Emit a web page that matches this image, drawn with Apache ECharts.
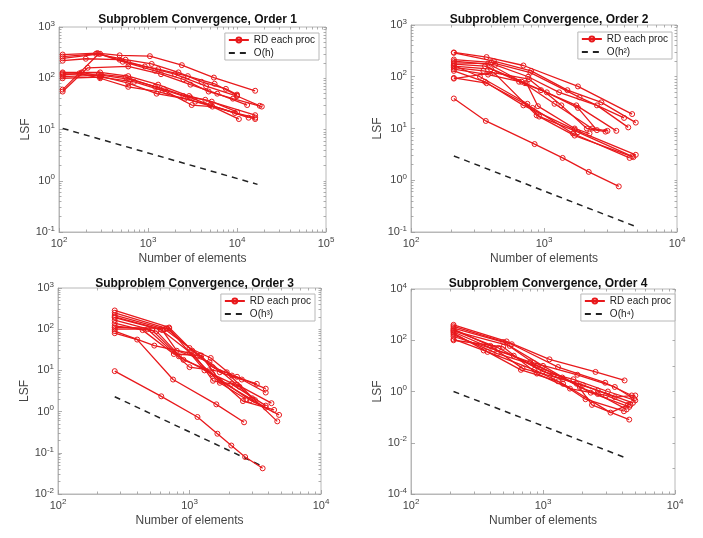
<!DOCTYPE html>
<html>
<head>
<meta charset="utf-8">
<script src="https://cdn.jsdelivr.net/npm/echarts@6/dist/echarts.min.js"></script>
<style>
  html, body { margin: 0; padding: 0; background: #fff; }
  #chart { width: 703px; height: 538px; }
</style>
</head>
<body>
<div id="chart"></div>
<script>
// panel titles and reference-line names
var titles = ['Subproblem Convergence, Order 1', 'Subproblem Convergence, Order 2',
    'Subproblem Convergence, Order 3', 'Subproblem Convergence, Order 4'];
var refNames = ['O(h)', 'O(h\u00b2)', 'O(h\u00b3)', 'O(h\u2074)'];

// axis ranges (log10 exponents)
var xRanges = [[2, 5], [2, 4], [2, 4], [2, 4]];
var yRanges = [[-1, 3], [-1, 3], [-2, 3], [-4, 4]];

// each run: [number of elements, LSF]
var order1Runs = [
    [[110, 290], [270, 310], [480, 280], [1050, 270], [2400, 180], [5500, 103], [16000, 57]],
    [[110, 265], [260, 300], [560, 230], [1100, 190], [2200, 130], [4000, 85], [7500, 62], [10000, 48]],
    [[110, 245], [290, 300], [600, 200], [1300, 150], [2800, 110], [5600, 78], [10000, 46]],
    [[110, 220], [200, 240], [480, 230], [920, 170], [2000, 120], [4500, 70], [10000, 45], [18000, 29]],
    [[110, 60], [280, 300], [520, 210], [1200, 140], [2500, 95], [4800, 55], [9000, 40], [19000, 28]],
    [[110, 55], [210, 160], [600, 170], [1400, 120], [3000, 75], [6000, 50], [13000, 30]],
    [[110, 130], [290, 130], [600, 110], [1300, 75], [2900, 45], [5200, 35], [10000, 22]],
    [[110, 120], [280, 120], [560, 105], [1200, 68], [2500, 45], [4400, 38], [16000, 19]],
    [[110, 108], [300, 115], [620, 95], [1500, 62], [3000, 42], [5000, 30], [13500, 17]],
    [[110, 100], [290, 105], [700, 85], [1600, 55], [3100, 30], [5300, 28], [10500, 16]],
    [[110, 125], [180, 130], [290, 110], [600, 80], [1250, 50], [2600, 40], [5000, 30], [16000, 16]],
    [[110, 115], [170, 125], [290, 100], [600, 68], [1300, 55], [3400, 35], [9500, 21], [16000, 17]]
];
var order2Runs = [
    [[210, 295], [370, 240], [700, 165], [1800, 65], [4600, 19]],
    [[210, 290], [420, 200], [800, 130], [1500, 55], [2700, 32], [4900, 13]],
    [[210, 215], [400, 190], [790, 120], [1850, 40], [4000, 16]],
    [[210, 200], [430, 170], [760, 100], [1300, 50], [2500, 28], [4300, 10.5]],
    [[210, 185], [380, 180], [680, 80], [1200, 30], [2300, 10], [3000, 9]],
    [[210, 175], [360, 160], [720, 75], [950, 55], [1750, 28], [3500, 9]],
    [[210, 160], [400, 140], [650, 80], [1050, 50], [1800, 25], [2500, 9.3]],
    [[210, 150], [350, 130], [770, 90], [1350, 28], [2100, 10], [2900, 8.7]],
    [[210, 140], [380, 110], [740, 75], [900, 27], [1700, 10], [2200, 8]],
    [[210, 130], [360, 80], [700, 28], [1700, 9.5], [4900, 3.1]],
    [[210, 95], [370, 75], [820, 25], [1650, 8], [4400, 2.7]],
    [[210, 92], [420, 120], [880, 18], [1800, 8.5], [4600, 2.9]],
    [[210, 165], [330, 100], [750, 30], [920, 17], [1700, 7.3], [4700, 2.8]],
    [[210, 38], [365, 14], [850, 5], [1380, 2.7], [2170, 1.45], [3650, 0.76]]
];
var order3Runs = [
    [[270, 285], [700, 110], [1050, 30], [1500, 12], [2300, 7], [3800, 3.6]],
    [[270, 250], [670, 105], [1000, 35], [1450, 20], [2100, 7.5], [3250, 4.7]],
    [[270, 220], [650, 100], [1200, 23], [1700, 9], [2500, 6], [3800, 2.9]],
    [[270, 200], [600, 100], [1000, 28], [1700, 5], [2700, 2.0]],
    [[270, 190], [620, 95], [800, 30], [1420, 16], [2300, 4.5], [4200, 1.6]],
    [[270, 165], [520, 95], [830, 22], [1500, 8], [2900, 1.9], [4800, 0.83]],
    [[270, 140], [440, 95], [760, 25], [1230, 23], [1700, 5.6], [3800, 1.25]],
    [[270, 120], [560, 90], [900, 18], [1400, 10], [2550, 1.8], [4400, 1.1]],
    [[270, 110], [700, 105], [1300, 10], [2400, 4], [3000, 2.1]],
    [[270, 100], [480, 100], [1000, 12], [1920, 9], [3150, 1.9], [4650, 0.58]],
    [[270, 90], [540, 40], [1080, 25], [1510, 5.6], [2080, 4.7], [3800, 1.4]],
    [[270, 80], [400, 56], [750, 6], [1600, 1.5], [2600, 0.55]],
    [[270, 9.6], [610, 2.35], [1150, 0.74], [1630, 0.29], [2080, 0.15], [2650, 0.079], [3600, 0.042]]
];
var order4Runs = [
    [[210, 400], [530, 90], [1120, 18], [2500, 5.8], [4150, 2.7]],
    [[210, 350], [580, 70], [1300, 9], [2960, 2.2], [4700, 0.7]],
    [[210, 300], [500, 85], [850, 13], [1820, 4.5], [3500, 1.5], [4900, 0.52]],
    [[210, 270], [400, 60], [700, 8], [1420, 3], [2600, 1.1], [4800, 0.36]],
    [[210, 245], [460, 50], [1000, 6], [1700, 3], [3100, 1.0], [5000, 0.45]],
    [[210, 230], [560, 60], [1000, 10], [1900, 1.5], [2600, 0.8], [4300, 0.2]],
    [[210, 210], [420, 45], [800, 14], [1400, 3.5], [2300, 0.9], [4500, 0.25]],
    [[210, 190], [380, 35], [680, 7], [1300, 2.5], [2100, 0.5], [4100, 0.17]],
    [[210, 165], [450, 30], [900, 10], [1800, 2], [2350, 0.3], [4500, 0.08]],
    [[210, 140], [600, 25], [1200, 4], [2000, 1.8], [3500, 0.6], [5000, 0.7]],
    [[210, 110], [355, 40], [860, 7], [1420, 2], [3250, 0.15], [4400, 0.3]],
    [[210, 100], [500, 55], [900, 5], [1600, 1.3], [3000, 0.7], [4600, 0.3]]
];
var allRuns = [order1Runs, order2Runs, order3Runs, order4Runs];

// dashed reference lines, end points
var refLines = [
    [[110, 10.5], [17000, 0.85]],
    [[210, 2.95], [4800, 0.13]],
    [[270, 2.3], [3650, 0.046]],
    [[210, 1.0], [4300, 0.0025]]
];

var red = '#e8191c';
var boxColor = '#b8b8b8';
var tickColor = '#999';
var grids = [
    {left: 59, top: 27, width: 267, height: 205},
    {left: 411, top: 25, width: 266, height: 207},
    {left: 58, top: 288, width: 263, height: 206},
    {left: 411, top: 289, width: 264, height: 205}
];
// legend boxes: distance of right edge from chart edge, top
var legendPos = [
    {right: 384, top: 33}, {right: 31, top: 32}, {right: 388, top: 294}, {right: 28, top: 294}
];

function expLabel(v) {
    var e = Math.round(Math.log10(v));
    return '10{e|' + e + '}';
}

// tick positions 1..9 x 10^k inside a range of exponents
function logTicks(range, minorOnly) {
    var out = [];
    for (var e = range[0]; e <= range[1]; e++) {
        for (var k = 1; k <= 9; k++) {
            if (e === range[1] && k > 1) break;
            if (minorOnly && k === 1) continue;
            out.push(k * Math.pow(10, e));
        }
    }
    return out;
}

// extra axis used only to draw ticks (minor or mirrored)
function tickAxis(i, range, pos, values, len) {
    return {
        type: 'log', logBase: 10, gridIndex: i, position: pos,
        min: Math.pow(10, range[0]), max: Math.pow(10, range[1]),
        axisLine: {show: false},
        axisLabel: {show: false},
        splitLine: {show: false},
        axisTick: {show: true, inside: true, length: len, customValues: values,
            lineStyle: {color: tickColor, width: 0.8}}
    };
}

var xAxes = [], yAxes = [], series = [], titleList = [], legends = [];
var labelFont = 'Liberation Sans';
grids.forEach(function (g, i) {
    g.show = true;
    g.borderColor = boxColor;
    g.borderWidth = 1;
    var rich = {e: {fontSize: 8, padding: [0, 0, 7, 0], color: '#444', fontFamily: labelFont}};
    var xIdx = xAxes.length, yIdx = yAxes.length;
    xAxes.push({
        type: 'log', logBase: 10, gridIndex: i, position: 'bottom',
        min: Math.pow(10, xRanges[i][0]), max: Math.pow(10, xRanges[i][1]),
        name: 'Number of elements', nameLocation: 'middle', nameGap: 21,
        nameTextStyle: {fontSize: 12, color: '#444', fontFamily: labelFont},
        axisLine: {lineStyle: {color: boxColor}},
        axisTick: {inside: true, length: 4, lineStyle: {color: tickColor, width: 0.8}},
        splitLine: {show: false},
        axisLabel: {formatter: expLabel, color: '#444', fontSize: 11, margin: 4,
            fontFamily: labelFont, rich: rich}
    });
    yAxes.push({
        type: 'log', logBase: 10, gridIndex: i, position: 'left',
        min: Math.pow(10, yRanges[i][0]), max: Math.pow(10, yRanges[i][1]),
        interval: i === 3 ? 2 : 1,
        name: 'LSF', nameLocation: 'middle', nameGap: 27,
        nameTextStyle: {fontSize: 12, color: '#444', fontFamily: labelFont},
        axisLine: {lineStyle: {color: boxColor}},
        axisTick: {inside: true, length: 4, lineStyle: {color: tickColor, width: 0.8}},
        splitLine: {show: false},
        axisLabel: {formatter: expLabel, color: '#444', fontSize: 11, margin: 4,
            fontFamily: labelFont, rich: rich}
    });
    // minor ticks and the mirrored box ticks
    var yAll = logTicks(yRanges[i], false);
    if (i === 3) {
        yAll = yAll.filter(function (v, j) { return j % 9 === 0; });
    }
    xAxes.push(tickAxis(i, xRanges[i], 'bottom', logTicks(xRanges[i], true), 2.5));
    xAxes.push(tickAxis(i, xRanges[i], 'top', logTicks(xRanges[i], false), 2.5));
    yAxes.push(tickAxis(i, yRanges[i], 'left', i === 3 ? [] : logTicks(yRanges[i], true), 2.5));
    yAxes.push(tickAxis(i, yRanges[i], 'right', yAll, 2.5));

    allRuns[i].forEach(function (run) {
        series.push({
            type: 'line', name: 'RD each proc',
            xAxisIndex: xIdx, yAxisIndex: yIdx,
            data: run,
            symbol: 'circle', symbolSize: 5,
            lineStyle: {color: red, width: 1.3},
            itemStyle: {color: 'rgba(255,255,255,0)', borderColor: red, borderWidth: 1},
            emphasis: {disabled: true},
            z: 3
        });
    });
    series.push({
        type: 'line', name: refNames[i],
        xAxisIndex: xIdx, yAxisIndex: yIdx,
        data: refLines[i],
        symbol: 'none',
        lineStyle: {color: '#222', width: 1.5, type: [6, 5]},
        itemStyle: {color: '#222'},
        z: 2
    });

    titleList.push({
        text: titles[i],
        left: g.left + g.width / 2,
        top: i < 2 ? 9 : 273,
        textAlign: 'center',
        textStyle: {fontSize: 12, fontWeight: 'bold', color: '#111', fontFamily: labelFont}
    });
    legends.push({
        right: legendPos[i].right, top: legendPos[i].top,
        orient: 'vertical',
        data: [
            {name: 'RD each proc'},
            {name: refNames[i], itemStyle: {opacity: 0}}
        ],
        selectedMode: false,
        backgroundColor: '#fff',
        borderColor: boxColor, borderWidth: 1, borderRadius: 0,
        padding: [2, 4, 2, 3],
        itemGap: 3, itemWidth: 20, itemHeight: 6,
        textStyle: {fontSize: 10, color: '#222', fontFamily: labelFont}
    });
});

var chart = echarts.init(document.getElementById('chart'));
chart.setOption({
    animation: false,
    backgroundColor: '#fff',
    title: titleList,
    legend: legends,
    grid: grids,
    xAxis: xAxes,
    yAxis: yAxes,
    series: series
});
</script>
</body>
</html>
